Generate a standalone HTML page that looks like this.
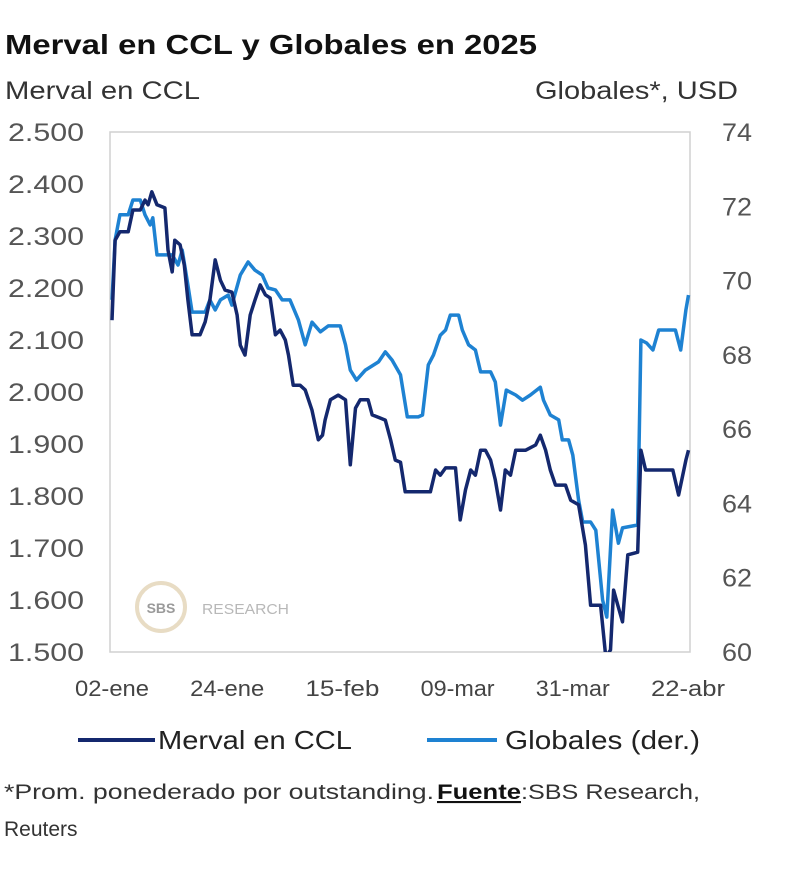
<!DOCTYPE html>
<html><head><meta charset="utf-8"><style>
body{margin:0;background:#fff;}
svg{display:block;font-family:"Liberation Sans",sans-serif;}
</style></head><body>
<svg id="chart" width="800" height="877" viewBox="0 0 800 877">
<text x="5" y="54" font-size="28" font-weight="bold" fill="#111" textLength="532" lengthAdjust="spacingAndGlyphs">Merval en CCL y Globales en 2025</text>
<text x="5" y="99" font-size="25" fill="#333" textLength="195" lengthAdjust="spacingAndGlyphs">Merval en CCL</text>
<text x="738" y="99" font-size="25" fill="#333" text-anchor="end" textLength="203" lengthAdjust="spacingAndGlyphs">Globales*, USD</text>
<rect x="110" y="132" width="580" height="520" fill="none" stroke="#d0d0d0" stroke-width="1.5"/>
<g>
<circle cx="161" cy="607" r="24" fill="none" stroke="#e8dcc4" stroke-width="4"/>
<text x="161" y="613" font-size="14" font-weight="bold" fill="#9a9a9a" text-anchor="middle">SBS</text>
<text x="202" y="614" font-size="15" fill="#b8b8b8" textLength="87" lengthAdjust="spacingAndGlyphs">RESEARCH</text>
</g>
<g id="yl"></g><g id="yr"></g><g id="xl"></g><g id="series"></g>
<g>
<line x1="78" y1="740" x2="155" y2="740" stroke="#14286e" stroke-width="4"/>
<text x="158" y="749" font-size="26" fill="#222" textLength="194" lengthAdjust="spacingAndGlyphs">Merval en CCL</text>
<line x1="427" y1="740" x2="497" y2="740" stroke="#1e82d2" stroke-width="4"/>
<text x="505" y="749" font-size="26" fill="#222" textLength="195" lengthAdjust="spacingAndGlyphs">Globales (der.)</text>
</g>
<text x="4" y="799" font-size="21" fill="#333"><tspan textLength="430" lengthAdjust="spacingAndGlyphs">*Prom. ponederado por outstanding.</tspan><tspan x="437" font-weight="bold" text-decoration="underline" fill="#111" textLength="84" lengthAdjust="spacingAndGlyphs">Fuente</tspan><tspan x="521" textLength="179" lengthAdjust="spacingAndGlyphs">:SBS Research,</tspan></text>
<text x="4" y="836" font-size="21" fill="#333">Reuters</text>
</svg>
<script>
const leftTicks=[1500,1600,1700,1800,1900,2000,2100,2200,2300,2400,2500];
const leftTickLabels=["1.500","1.600","1.700","1.800","1.900","2.000","2.100","2.200","2.300","2.400","2.500"];
const rightTicks=[60,62,64,66,68,70,72,74];
const xTickDays=[0,22,44,66,88,110];
const xTickLabels=["02-ene","24-ene","15-feb","09-mar","31-mar","22-abr"];
const mervalDays=[0,0.6,1.5,3.1,4,5.4,6.3,6.9,7.6,8.6,10.1,10.7,11.5,12,13,13.8,14.5,15.3,16.8,17.8,18.7,19.7,20.7,21.6,22.9,23.9,24.5,25.4,26.4,27.3,28.3,29.3,30.2,31.2,32.1,33.1,33.7,34.6,35.9,36.9,38.2,39.4,40.2,40.7,41.7,43.2,44.6,45.5,46.5,47.4,48.9,49.7,51.2,52.2,53.2,54.1,55.1,56,58.9,60.8,61.8,62.7,63.7,65.6,66.5,67.5,68.5,69.4,70.4,71.3,72.3,73.2,74.2,75.1,76.1,77.1,79,80.9,81.8,82.8,83.7,84.7,86.6,87.6,89.1,90.4,91.4,93.3,94.3,95.2,95.8,96.6,97.5,98.5,100.4,101,101.9,104.8,107.1,108.2,109.6,110.1];
const mervalValues=[2138,2292,2308,2308,2350,2350,2369,2360,2385,2360,2354,2273,2231,2292,2283,2244,2177,2110,2110,2135,2177,2254,2215,2196,2192,2148,2090,2071,2148,2177,2206,2187,2181,2110,2119,2100,2071,2013,2013,2004,1965,1908,1917,1946,1985,1994,1985,1860,1969,1985,1985,1956,1950,1946,1908,1869,1865,1808,1808,1808,1850,1840,1854,1854,1754,1812,1850,1840,1888,1888,1869,1831,1773,1850,1840,1888,1888,1898,1917,1888,1850,1821,1821,1792,1783,1706,1590,1590,1490,1504,1619,1590,1558,1687,1692,1888,1850,1850,1850,1802,1869,1888];
const globalesDays=[0,0.6,1.5,3.1,4,5.4,6.3,7.3,7.8,8.6,11.5,12.6,13.4,14.5,15.3,17.8,18.7,19.7,20.7,22.2,22.9,24.5,26,27.3,28.7,29.8,31.2,32.5,34,35.6,36.9,38.2,39.8,41.3,43.6,44.6,45.5,46.7,48.4,50.9,52.2,53.5,55.1,56.4,58.5,59.3,60.4,61.4,62.7,63.7,64.6,66.2,66.9,68.1,69.4,70.4,72.3,73.2,74.2,75.3,77.1,78.4,79.9,81.8,82.4,83.7,85.3,86,87.2,88,89.1,89.9,91.4,92.4,93.7,94.5,95.6,96.7,97.5,100.4,101,102.1,103.3,104.4,107.6,108.6,109.6,110.1];
const globalesValues=[69.48,71.09,71.77,71.77,72.17,72.17,71.77,71.5,71.69,70.69,70.69,70.42,70.82,69.88,69.15,69.15,69.48,69.21,69.48,69.61,69.34,70.15,70.5,70.28,70.15,69.8,69.75,69.48,69.48,68.94,68.27,68.88,68.62,68.78,68.78,68.27,67.59,67.32,67.59,67.81,68.08,67.86,67.46,66.33,66.33,66.38,67.73,68,68.53,68.67,69.07,69.07,68.67,68.27,68.13,67.54,67.54,67.27,66.11,67.05,66.92,66.78,66.92,67.13,66.78,66.38,66.25,65.71,65.71,65.3,64.09,63.5,63.5,63.28,61.4,60.94,63.82,62.93,63.34,63.42,68.4,68.32,68.13,68.67,68.67,68.13,69.21,69.61];

const NS="http://www.w3.org/2000/svg";
const X0=112,X1=688,T=132,B=652;
const xS=d=>X0+(d/110)*(X1-X0);
const yL=v=>B-(v-1500)/1000*(B-T);
const yR=v=>B-(v-60)/14*(B-T);
function mk(tag,attrs,parent){const e=document.createElementNS(NS,tag);for(const k in attrs)e.setAttribute(k,attrs[k]);parent.appendChild(e);return e;}
const yl=document.getElementById('yl'),yr=document.getElementById('yr'),xl=document.getElementById('xl'),sg=document.getElementById('series');
leftTicks.forEach((v,i)=>{const t=mk('text',{x:84,y:yL(v)+9,'font-size':25,fill:'#555','text-anchor':'end',textLength:76,lengthAdjust:'spacingAndGlyphs'},yl);t.textContent=leftTickLabels[i];

});
rightTicks.forEach(v=>{const t=mk('text',{x:722,y:yR(v)+9,'font-size':25,fill:'#555',textLength:30,lengthAdjust:'spacingAndGlyphs'},yr);t.textContent=String(v);

});
xTickDays.forEach((d,i)=>{const t=mk('text',{x:xS(d),y:696,'font-size':22,fill:'#444','text-anchor':'middle',textLength:74,lengthAdjust:'spacingAndGlyphs'},xl);t.textContent=xTickLabels[i];

});
function path(days,vals,ys){return days.map((d,i)=>(i?'L':'M')+xS(d).toFixed(1)+','+ys(vals[i]).toFixed(1)).join('');}
mk('clipPath',{id:'clp'},sg).appendChild(document.createElementNS(NS,'rect'));
const cr=sg.querySelector('clipPath rect');cr.setAttribute('x',108);cr.setAttribute('y',130);cr.setAttribute('width',584);cr.setAttribute('height',522);
const g1=mk('path',{d:path(globalesDays,globalesValues,yR),fill:'none',stroke:'#1e82d2','stroke-width':3.5,'stroke-linejoin':'round','clip-path':'url(#clp)'},sg);


const m1=mk('path',{d:path(mervalDays,mervalValues,yL),fill:'none',stroke:'#14286e','stroke-width':3.5,'stroke-linejoin':'round','clip-path':'url(#clp)'},sg);


</script>
</body></html>
